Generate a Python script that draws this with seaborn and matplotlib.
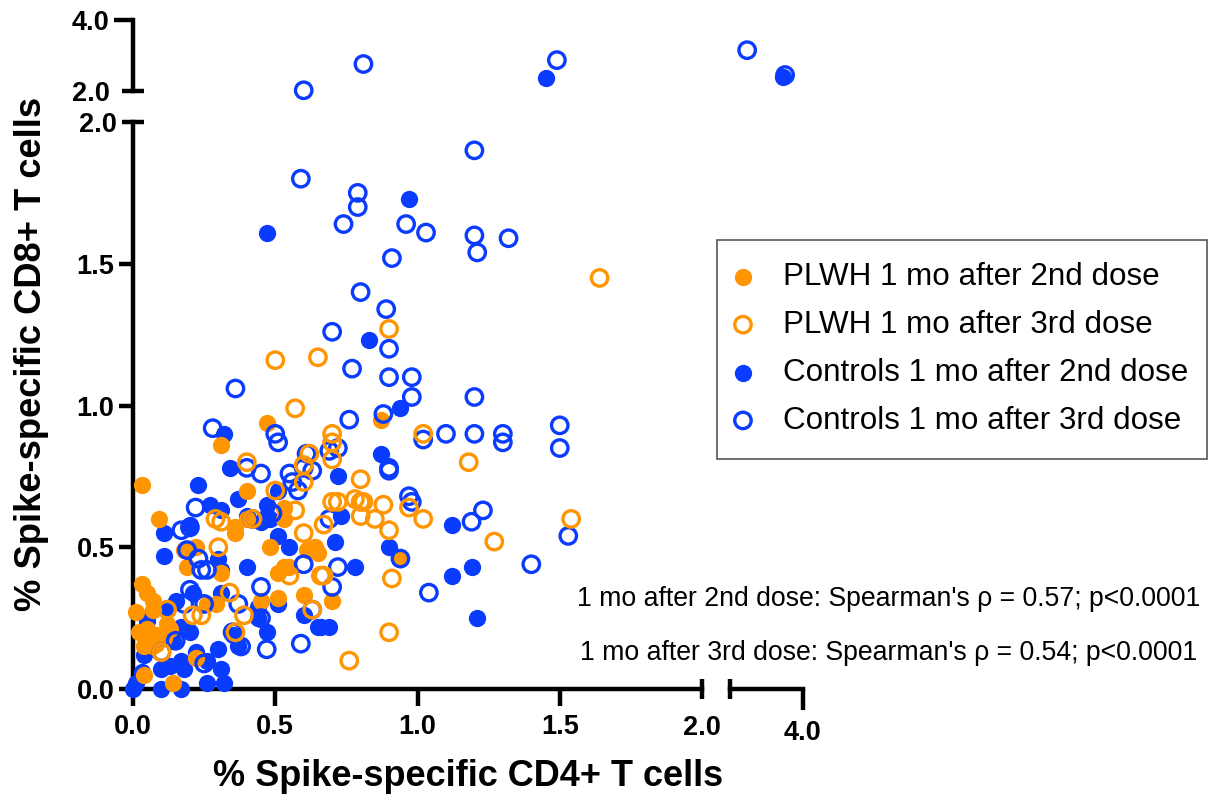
import numpy as np
import pandas as pd
import seaborn as sns
import matplotlib.pyplot as plt
from matplotlib.patches import Rectangle

# values: % CD4+ (x) and % CD8+ (y)
plwh_2nd_x = [0.03, 0.05, 0.07, 0.07, 0.01, 0.12, 0.13, 0.02, 0.05, 0.08, 0.05, 0.08, 0.04, 0.07, 0.11,
              0.04, 0.14, 0.22, 0.29, 0.26, 0.45, 0.51, 0.48, 0.51, 0.53, 0.55, 0.60, 0.31, 0.19, 0.18,
              0.22, 0.61, 0.65, 0.03, 0.09, 0.31, 0.47, 0.40, 0.36, 0.36, 0.40, 0.53, 0.53, 0.64, 0.87, 0.94, 0.70]
plwh_2nd_y = [0.37, 0.34, 0.31, 0.28, 0.27, 0.23, 0.21, 0.20, 0.21, 0.19, 0.17, 0.16, 0.15, 0.15, 0.18,
              0.05, 0.02, 0.11, 0.30, 0.30, 0.31, 0.32, 0.50, 0.41, 0.43, 0.43, 0.33, 0.41, 0.43, 0.49,
              0.50, 0.49, 0.48, 0.72, 0.60, 0.86, 0.94, 0.70, 0.57, 0.55, 0.60, 0.64, 0.60, 0.50, 0.95, 0.46, 0.31]

plwh_3rd_x = [1.64, 0.90, 0.50, 0.65, 0.57, 0.70, 0.70, 0.70, 1.02, 1.18, 0.80, 0.70, 0.72, 0.78, 0.80,
              0.81, 0.88, 0.80, 0.85, 0.90, 0.97, 1.02, 1.54, 1.27, 0.91, 0.90, 0.76, 0.67, 0.67, 0.40,
              0.62, 0.60, 0.60, 0.50, 0.57, 0.29, 0.31, 0.42, 0.30, 0.60, 0.12, 0.34, 0.39, 0.21, 0.24,
              0.10, 0.55, 0.63, 0.66, 0.36]
plwh_3rd_y = [1.45, 1.27, 1.16, 1.17, 0.99, 0.90, 0.87, 0.81, 0.90, 0.80, 0.74, 0.66, 0.66, 0.67, 0.66,
              0.66, 0.65, 0.61, 0.60, 0.56, 0.64, 0.60, 0.60, 0.52, 0.39, 0.20, 0.10, 0.58, 0.40, 0.80,
              0.83, 0.79, 0.73, 0.70, 0.63, 0.60, 0.59, 0.60, 0.50, 0.55, 0.28, 0.34, 0.26, 0.26, 0.26,
              0.13, 0.40, 0.28, 0.40, 0.20]

ctrl_2nd_x = [0.11, 0.30, 0.31, 0.40, 0.21, 0.15, 0.31, 0.51, 0.60, 0.65, 0.69, 0.66, 0.44, 0.44, 0.47,
              0.35, 0.37, 0.30, 0.22, 0.04, 0.20, 0.17, 0.14, 0.17, 0.18, 0.13, 0.10, 0.03, 0.26, 0.31,
              0.26, 0.32, 0.10, 0.17, 0.00, 0.01, 0.05, 0.12, 0.32, 0.34, 0.23, 0.37, 0.27, 0.31, 0.20,
              0.11, 0.51, 0.55, 0.47, 0.51, 0.47, 0.40, 0.45, 0.48, 0.94, 0.87, 0.72, 0.73, 0.71, 0.78,
              0.90, 1.12, 1.12, 1.19, 1.21, 0.97, 0.47, 0.83, 1.45, 3.45]
ctrl_2nd_y = [0.47, 0.46, 0.42, 0.43, 0.34, 0.31, 0.34, 0.30, 0.26, 0.22, 0.22, 0.22, 0.29, 0.25, 0.20,
              0.19, 0.15, 0.14, 0.13, 0.12, 0.20, 0.22, 0.17, 0.10, 0.07, 0.08, 0.07, 0.06, 0.10, 0.07,
              0.02, 0.02, 0.00, 0.00, 0.00, 0.02, 0.24, 0.28, 0.90, 0.78, 0.72, 0.67, 0.65, 0.63, 0.58,
              0.55, 0.54, 0.50, 0.65, 0.70, 0.61, 0.61, 0.59, 0.60, 0.99, 0.83, 0.75, 0.61, 0.52, 0.43,
              0.50, 0.58, 0.40, 0.43, 0.25, 1.73, 1.61, 1.23, 2.37, 2.39]

ctrl_3rd_x = [0.60, 0.81, 1.49, 2.47, 3.51, 1.20, 0.59, 0.79, 0.79, 0.74, 0.96, 1.03, 1.20, 1.21, 1.32,
              0.91, 0.80, 0.89, 0.70, 0.90, 0.77, 0.90, 0.98, 0.98, 1.20, 0.36, 0.76, 0.88, 1.50, 1.50,
              0.28, 0.50, 0.51, 1.10, 1.20, 1.02, 1.30, 1.30, 0.90, 0.90, 0.97, 0.98, 1.23, 1.19, 1.53,
              1.40, 0.94, 0.72, 0.70, 1.04, 0.72, 0.69, 0.69, 0.40, 0.45, 0.55, 0.56, 0.58, 0.61, 0.60,
              0.63, 0.22, 0.17, 0.20, 0.19, 0.23, 0.24, 0.26, 0.49, 0.42, 0.20, 0.18, 0.25, 0.45, 0.37,
              0.45, 0.35, 0.38, 0.47, 0.59, 0.15, 0.10, 0.25, 0.60, 0.63]
ctrl_3rd_y = [2.02, 2.76, 2.87, 3.15, 2.45, 1.90, 1.80, 1.75, 1.70, 1.64, 1.64, 1.61, 1.60, 1.54, 1.59,
              1.52, 1.40, 1.34, 1.26, 1.20, 1.13, 1.10, 1.10, 1.03, 1.03, 1.06, 0.95, 0.97, 0.93, 0.85,
              0.92, 0.90, 0.87, 0.90, 0.90, 0.88, 0.90, 0.87, 0.78, 0.77, 0.68, 0.66, 0.63, 0.59, 0.54,
              0.44, 0.46, 0.43, 0.36, 0.34, 0.85, 0.84, 0.60, 0.78, 0.76, 0.76, 0.73, 0.70, 0.83, 0.78,
              0.77, 0.64, 0.56, 0.57, 0.49, 0.46, 0.42, 0.42, 0.62, 0.60, 0.35, 0.30, 0.30, 0.36, 0.30,
              0.25, 0.20, 0.15, 0.14, 0.16, 0.17, 0.13, 0.09, 0.44, 0.28]

series_names = ['PLWH 1 mo after 2nd dose', 'PLWH 1 mo after 3rd dose',
                'Controls 1 mo after 2nd dose', 'Controls 1 mo after 3rd dose']
x_label = '% Spike-specific CD4+ T cells'
y_label = '% Spike-specific CD8+ T cells'
note_2nd = "1 mo after 2nd dose: Spearman's ρ = 0.57; p<0.0001"
note_3rd = "1 mo after 3rd dose: Spearman's ρ = 0.54; p<0.0001"

ORANGE = '#FF9500'
BLUE = '#0A3CFF'
W, H = 1211, 799

sns.set_theme(style='white')
plt.rcParams['font.family'] = ['Liberation Sans', 'DejaVu Sans']
plt.rcParams['text.color'] = 'black'
plt.rcParams['xtick.color'] = 'black'
plt.rcParams['ytick.color'] = 'black'

frames = [
    pd.DataFrame({'x': plwh_2nd_x, 'y': plwh_2nd_y, 'group': series_names[0]}),
    pd.DataFrame({'x': plwh_3rd_x, 'y': plwh_3rd_y, 'group': series_names[1]}),
    pd.DataFrame({'x': ctrl_2nd_x, 'y': ctrl_2nd_y, 'group': series_names[2]}),
    pd.DataFrame({'x': ctrl_3rd_x, 'y': ctrl_3rd_y, 'group': series_names[3]}),
]
df = pd.concat(frames, ignore_index=True)

fig = plt.figure(figsize=(W / 100, H / 100), dpi=100)


def make_ax(left, right, top, bottom, xlim, ylim):
    # panel given in picture pixels
    ax = fig.add_axes([left / W, 1 - bottom / H, (right - left) / W, (bottom - top) / H])
    ax.set_xlim(*xlim)
    ax.set_ylim(*ylim)
    ax.patch.set_visible(False)
    for s in ax.spines.values():
        s.set_visible(False)
        s.set_linewidth(3.2)
        s.set_color('black')
    ax.set_xticks([])
    ax.set_yticks([])
    return ax


ax_main = make_ax(133, 702, 122, 689, (0, 2), (0, 2))
ax_top = make_ax(133, 702, 20, 91, (0, 2), (2, 4))
ax_right = make_ax(730, 803, 122, 689, (2, 4), (0, 2))
ax_corner = make_ax(730, 803, 20, 91, (2, 4), (2, 4))


def panel_data(d, panel):
    if panel == 'main':
        return d[(d.x <= 2) & (d.y <= 2)]
    if panel == 'top':
        return d[(d.x <= 2) & (d.y > 2)]
    if panel == 'right':
        return d[(d.x > 2) & (d.y <= 2)]
    return d[(d.x > 2) & (d.y > 2)]


# filled blue, filled orange, then the rings on top
draw_order = [(series_names[2], BLUE, True), (series_names[0], ORANGE, True),
              (series_names[3], BLUE, False), (series_names[1], ORANGE, False)]
panels = {'main': ax_main, 'top': ax_top, 'right': ax_right, 'corner': ax_corner}
handles = {}
for z, (name, col, filled) in enumerate(draw_order):
    for panel, ax in panels.items():
        sub = panel_data(df[df.group == name], panel)
        if len(sub) == 0:
            continue
        if filled:
            sns.scatterplot(data=sub, x='x', y='y', ax=ax, color=col, s=155, linewidth=0,
                            clip_on=False, zorder=3 + z, label=name)
        else:
            sns.scatterplot(data=sub, x='x', y='y', ax=ax, s=140, facecolors='none', edgecolor=col,
                            linewidth=2.4, clip_on=False, zorder=3 + z, label=name)
        h, l = ax.get_legend_handles_labels()
        handles[name] = h[l.index(name)]
        if ax.get_legend() is not None:
            ax.get_legend().remove()
        ax.set_xlabel('')
        ax.set_ylabel('')

# broken axes
ax_main.spines['left'].set_visible(True)
ax_main.spines['bottom'].set_visible(True)
ax_top.spines['left'].set_visible(True)
ax_right.spines['bottom'].set_visible(True)

tick_font = dict(fontsize=19.5, fontweight='bold', color='black')

ax_main.set_xticks([0, 0.5, 1.0, 1.5], labels=['0.0', '0.5', '1.0', '1.5'], **tick_font)
ax_main.set_xticks([2.0], labels=['2.0'], minor=True, **tick_font)
ax_main.set_yticks([0, 0.5, 1.0, 1.5], labels=['0.0', '0.5', '1.0', '1.5'], **tick_font)
ax_main.set_yticks([2.0], labels=['2.0'], minor=True, **tick_font)
ax_main.tick_params(which='major', axis='x', bottom=True, direction='out', length=12, width=3.2, pad=6)
ax_main.tick_params(which='minor', axis='x', bottom=True, direction='inout', length=15, width=3.2, pad=11)
ax_main.tick_params(which='major', axis='y', left=True, direction='out', length=10, width=3.2, pad=3.5)
ax_main.tick_params(which='minor', axis='y', left=True, direction='inout', length=16, width=3.2, pad=3.5)

ax_top.set_yticks([4.0], labels=['4.0'], **tick_font)
ax_top.set_yticks([2.0], labels=['2.0'], minor=True, **tick_font)
ax_top.tick_params(which='major', axis='y', left=True, direction='out', length=14, width=3.2, pad=3)
ax_top.tick_params(which='minor', axis='y', left=True, direction='inout', length=16, width=3.2, pad=9)

ax_right.set_xticks([4.0], labels=['4.0'], **tick_font)
ax_right.set_xticks([2.0], labels=[''], minor=True)
ax_right.tick_params(which='major', axis='x', bottom=True, direction='out', length=15, width=3.2, pad=7)
ax_right.tick_params(which='minor', axis='x', bottom=True, direction='inout', length=15, width=3.2)

fig.text(468 / W, 1 - 777 / H, x_label, fontsize=26, fontweight='bold', ha='center', va='center')
fig.text(32 / W, 1 - 354 / H, y_label, fontsize=26.2, fontweight='bold', rotation=90,
         ha='center', va='center')
fig.text(889 / W, 1 - 599.5 / H, note_2nd, fontsize=19.2, ha='center', va='center')
fig.text(889 / W, 1 - 653.5 / H, note_3rd, fontsize=19.2, ha='center', va='center')

# legend box drawn on its own so it keeps the size of the reference
fig.add_artist(Rectangle((717 / W, 1 - 459 / H), 490 / W, 219 / H, transform=fig.transFigure,
                         facecolor='white', edgecolor='#555555', linewidth=1.2))
fig.legend([handles[n] for n in series_names], series_names, loc='upper left',
           bbox_to_anchor=(738.4 / W, 1 - 262 / H), fontsize=22.6, frameon=False, labelspacing=0.57,
           handletextpad=1.125, borderpad=0, borderaxespad=0, handlelength=0.29)

fig.savefig('out.png', dpi=100)
